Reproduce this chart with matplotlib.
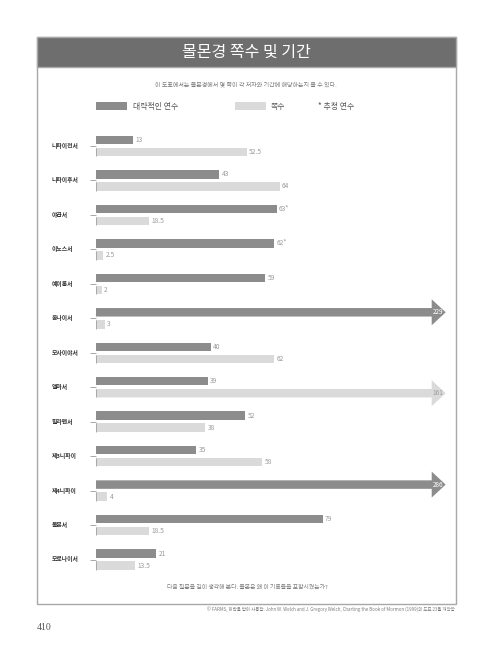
import matplotlib
matplotlib.use("Agg")
import matplotlib.pyplot as plt
from matplotlib.patches import Rectangle, FancyArrow
from matplotlib.transforms import blended_transform_factory

plt.rcParams['font.family'] = ['Noto Sans CJK KR', 'DejaVu Sans']

# ---------------- data ----------------
title = "몰몬경 쪽수 및 기간"
subtitle = "이 도표에서는 몰몬경에서 몇 쪽이 각 저자와 기간에 해당하는지 볼 수 있다."
question = "다음 질문을 깊이 생각해 본다. 몰몬은 왜 이 기록들을 포함시켰는가?"
credit = ("© FARMS, 허락을 받아 사용함. John W. Welch and J. Gregory Welch, "
          "Charting the Book of Mormon (1999)의 도표 23을 개작함")
page_number = "410"
legend_labels = ["대략적인 연수", "쪽수", "* 추정 연수"]

books = ["니파이전서", "니파이후서", "야곱서", "이노스서", "예이롬서", "옴나이서",
         "모사이야서", "앨마서", "힐라맨서", "제3니파이", "제4니파이", "몰몬서", "모로나이서"]
years = [13, 43, 63, 62, 59, 229, 40, 39, 52, 35, 286, 79, 21]
years_estimated = [False, False, True, True, False, False, False, False, False, False, False, False, False]
pages = [52.5, 64, 18.5, 2.5, 2, 3, 62, 161, 38, 58, 4, 18.5, 13.5]

# ---------------- style ----------------
W, H = 500, 649
DARK = "#8c8c8c"
LIGHT = "#dadada"
BAND = "#6e6e6e"
BORDER = "#a8a8a8"
LBLC = "#9a9a9a"

fig = plt.figure(figsize=(W / 100, H / 100), dpi=100)
fig.patch.set_facecolor("white")

# page-level axes in pixel coordinates
pg = fig.add_axes([0, 0, 1, 1], zorder=0)
pg.set_xlim(0, W)
pg.set_ylim(H, 0)
pg.axis("off")

# frame and title band
pg.add_patch(Rectangle((37, 37), 419, 567, facecolor="white", edgecolor=BORDER, lw=1.0))
pg.add_patch(Rectangle((37, 37), 419, 30, facecolor=BAND, edgecolor=BORDER, lw=1.0))
pg.text(246.5, 52.5, title, color="white", fontsize=11.5, ha="center", va="center")
pg.text(246, 84.3, subtitle, color="#7a7a7a", fontsize=4.3, ha="center", va="center")

# legend
pg.add_patch(Rectangle((96, 102), 31, 8, facecolor=DARK, edgecolor="none"))
pg.text(133, 106, legend_labels[0], color="#555555", fontsize=5.7, ha="left", va="center")
pg.add_patch(Rectangle((235, 102), 31, 8, facecolor=LIGHT, edgecolor="none"))
pg.text(271, 106, legend_labels[1], color="#555555", fontsize=5.7, ha="left", va="center")
pg.text(318, 106, legend_labels[2], color="#555555", fontsize=5.7, ha="left", va="center")

pg.text(247, 586.7, question, color="#7a7a7a", fontsize=4.2, ha="center", va="center")
pg.text(455, 609.3, credit, color="#7a7a7a", fontsize=3.2, ha="right", va="center")
pg.text(37, 627.7, page_number, color="#555555", fontsize=7, ha="left", va="center",
        family="Liberation Serif")

# ---------------- bar axes ----------------
px_per_unit = 2.87
ax_left, ax_right = 96, 456
first_y, last_y = 146.0, 559.5
n = len(books)
step = (last_y - first_y) / (n - 1)
ax_top = first_y - step / 2
ax_bot = last_y + step / 2
ax = fig.add_axes([ax_left / W, 1 - ax_bot / H, (ax_right - ax_left) / W, (ax_bot - ax_top) / H],
                  zorder=1)
ax.patch.set_alpha(0)
ax.set_xlim(0, (ax_right - ax_left) / px_per_unit)
ax.set_ylim(n - 0.5, -0.5)
for s in ax.spines.values():
    s.set_visible(False)
ax.set_xticks([])
ax.set_yticks(range(n))
ax.set_yticklabels([])
ax.tick_params(axis="y", length=4.5, width=0.6, color="#9a9a9a", pad=0)

off = 6.0 / step          # bar offset from category centre
bh = 8.5 / step           # bar height
head_w = 26.0 / step      # arrow head height
arrow_tip = (445.7 - ax_left) / px_per_unit
head_len = 14.0 / px_per_unit
cap = (431.7 - ax_left) / px_per_unit

lbl_tr = blended_transform_factory(fig.transFigure, ax.transData)


def draw(value, y, color, label, txtcol):
    if value > cap:
        ax.add_patch(FancyArrow(0, y, arrow_tip, 0, width=bh, head_width=head_w,
                                head_length=head_len, length_includes_head=True,
                                facecolor=color, edgecolor="none"))
        ax.text(arrow_tip - 2.6, y, label, color=txtcol, fontsize=4.6,
                ha="center", va="center")
    else:
        ax.barh(y, value, height=bh, color=color, edgecolor="none")
        ax.text(value + 0.8, y, label, color=LBLC, fontsize=4.8, ha="left", va="center")


def fmt(v):
    return ("%g" % v)


for i, (b, yv, est, pv) in enumerate(zip(books, years, years_estimated, pages)):
    draw(yv, i - off, DARK, fmt(yv) + ("*" if est else ""), "white")
    draw(pv, i + off, LIGHT, fmt(pv), "#9a9a9a")
    ax.vlines(0, i + off - bh / 2, i + off + bh / 2, color="#a0a0a0", lw=0.6)
    ax.text(52 / W, i, b, transform=lbl_tr, color="#333333", fontsize=4.2,
            fontweight="bold", ha="left", va="center")

fig.savefig("out.png", dpi=100, facecolor="white")
